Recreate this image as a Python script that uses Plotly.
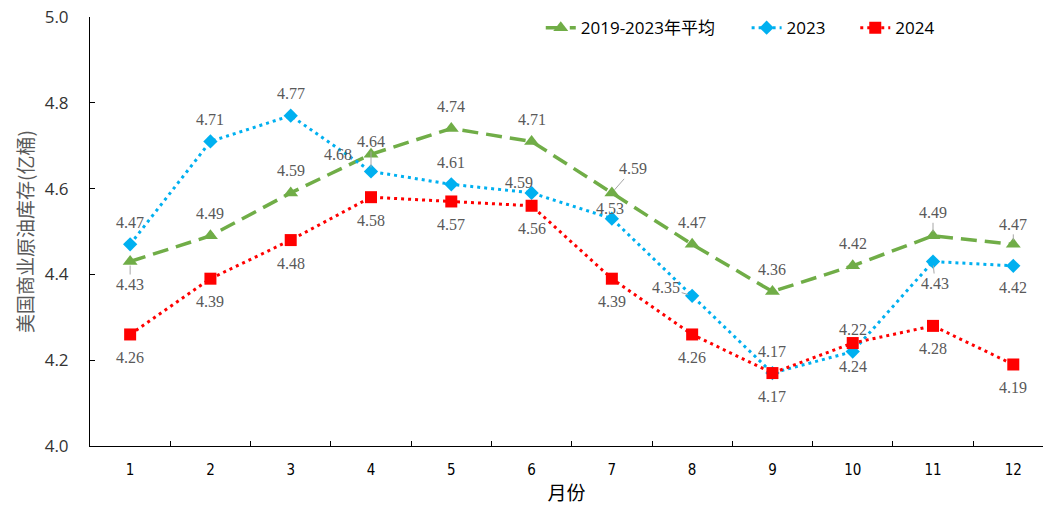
import plotly.graph_objects as go

# Monthly US commercial crude inventories (hundred-million barrels)
months = ["1", "2", "3", "4", "5", "6", "7", "8", "9", "10", "11", "12"]
avg_2019_2023 = [4.43, 4.49, 4.59, 4.68, 4.74, 4.71, 4.59, 4.47, 4.36, 4.42, 4.49, 4.47]
stock_2023 = [4.47, 4.71, 4.77, 4.64, 4.61, 4.59, 4.53, 4.35, 4.17, 4.22, 4.43, 4.42]
stock_2024 = [4.26, 4.39, 4.48, 4.58, 4.57, 4.56, 4.39, 4.26, 4.17, 4.24, 4.28, 4.19]

y_ticks = [4.0, 4.2, 4.4, 4.6, 4.8, 5.0]

GREEN = "#70AD47"
BLUE = "#00B0F0"
RED = "#FF0000"
LABEL_GRAY = "#595959"
CJK = "Noto Sans CJK SC"
SERIF = "Times New Roman, Liberation Serif, DejaVu Serif, serif"

fig = go.Figure()

fig.add_trace(go.Scatter(
    x=months, y=avg_2019_2023, name="2019-2023年平均", mode="lines+markers",
    line=dict(color=GREEN, width=3.5, dash="16px,8px"),
    marker=dict(symbol="triangle-up", size=13, color=GREEN),
    legend="legend",
))
fig.add_trace(go.Scatter(
    x=months, y=stock_2023, name="2023", mode="lines+markers",
    line=dict(color=BLUE, width=3, dash="3px,4px"),
    marker=dict(symbol="diamond", size=11, color=BLUE),
    legend="legend2",
))
fig.add_trace(go.Scatter(
    x=months, y=stock_2024, name="2024", mode="lines+markers",
    line=dict(color=RED, width=3, dash="3px,4px"),
    marker=dict(symbol="square", size=12, color=RED),
    legend="legend3",
))

# Data labels: (xshift, yshift) in pixels, plus whether a leader line is drawn
ABOVE, BELOW = (0, 22), (0, -23)
label_style = {
    "avg": {0: ((0, -23), True), 3: ((-33, 0), False), 6: ((21, 24), True),
            10: ((0, 23), True), 11: ((0, 20), True)},
    "y23": {3: ((0, 30), True), 5: ((-13, 10), False), 6: ((-2, 10), False),
            7: ((-26, 8), True), 10: ((2, -22), True), 11: ((0, -22), False)},
    "y24": {},
}
series = [("avg", avg_2019_2023, ABOVE), ("y23", stock_2023, ABOVE), ("y24", stock_2024, BELOW)]

for key, values, default in series:
    for i, v in enumerate(values):
        (dx, dy), leader = label_style[key].get(i, (default, False))
        common = dict(
            x=i, y=v, xref="x", yref="y", text=f"{v:.2f}",
            font=go.layout.annotation.Font(family=SERIF, size=16, color=LABEL_GRAY),
        )
        if leader:
            fig.add_annotation(
                **common, showarrow=True, arrowhead=0, arrowwidth=1,
                arrowcolor="#A6A6A6", ax=dx, ay=-dy, standoff=4,
            )
        else:
            fig.add_annotation(**common, showarrow=False, xshift=dx, yshift=dy)

legend_common = dict(
    orientation="h", xref="paper", yref="paper", y=0.974,
    xanchor="left", yanchor="middle",
    font=dict(family=f"Open Sans, {CJK}", size=17, color="#000000"),
    bgcolor="rgba(0,0,0,0)",
)

fig.update_layout(
    width=1043, height=506,
    margin=dict(l=90, r=0, t=17, b=60),
    paper_bgcolor="white", plot_bgcolor="white",
    showlegend=True,
    legend=dict(legend_common, x=0.473),
    legend2=dict(legend_common, x=0.689),
    legend3=dict(legend_common, x=0.803),
    xaxis=dict(
        type="category", range=[-0.5, 11.37],
        showline=True, linecolor="#000000", linewidth=1,
        ticks="inside", ticklen=5, tickcolor="#000000", tickson="boundaries",
        showgrid=False, zeroline=False,
        tickfont=dict(family="Liberation Sans Narrow, DejaVu Sans Condensed, Roboto, sans-serif", size=15, color="#000000"),
        ticklabelstandoff=10,
        title=dict(text="月份", font=dict(family=CJK, size=19, color="#000000"), standoff=8),
    ),
    yaxis=dict(
        range=[4.0, 5.0], tickvals=y_ticks, tickformat=".1f",
        showline=True, linecolor="#000000", linewidth=1,
        ticks="inside", ticklen=5, tickcolor="#000000",
        showgrid=False, zeroline=False,
        tickfont=dict(family="Open Sans, sans-serif", size=17, color="#333333"),
        ticklabelstandoff=17,
        title=dict(text="美国商业原油库存(亿桶)", font=dict(family=CJK, size=19, color=LABEL_GRAY), standoff=6),
    ),
)

fig.write_html("out.html")
